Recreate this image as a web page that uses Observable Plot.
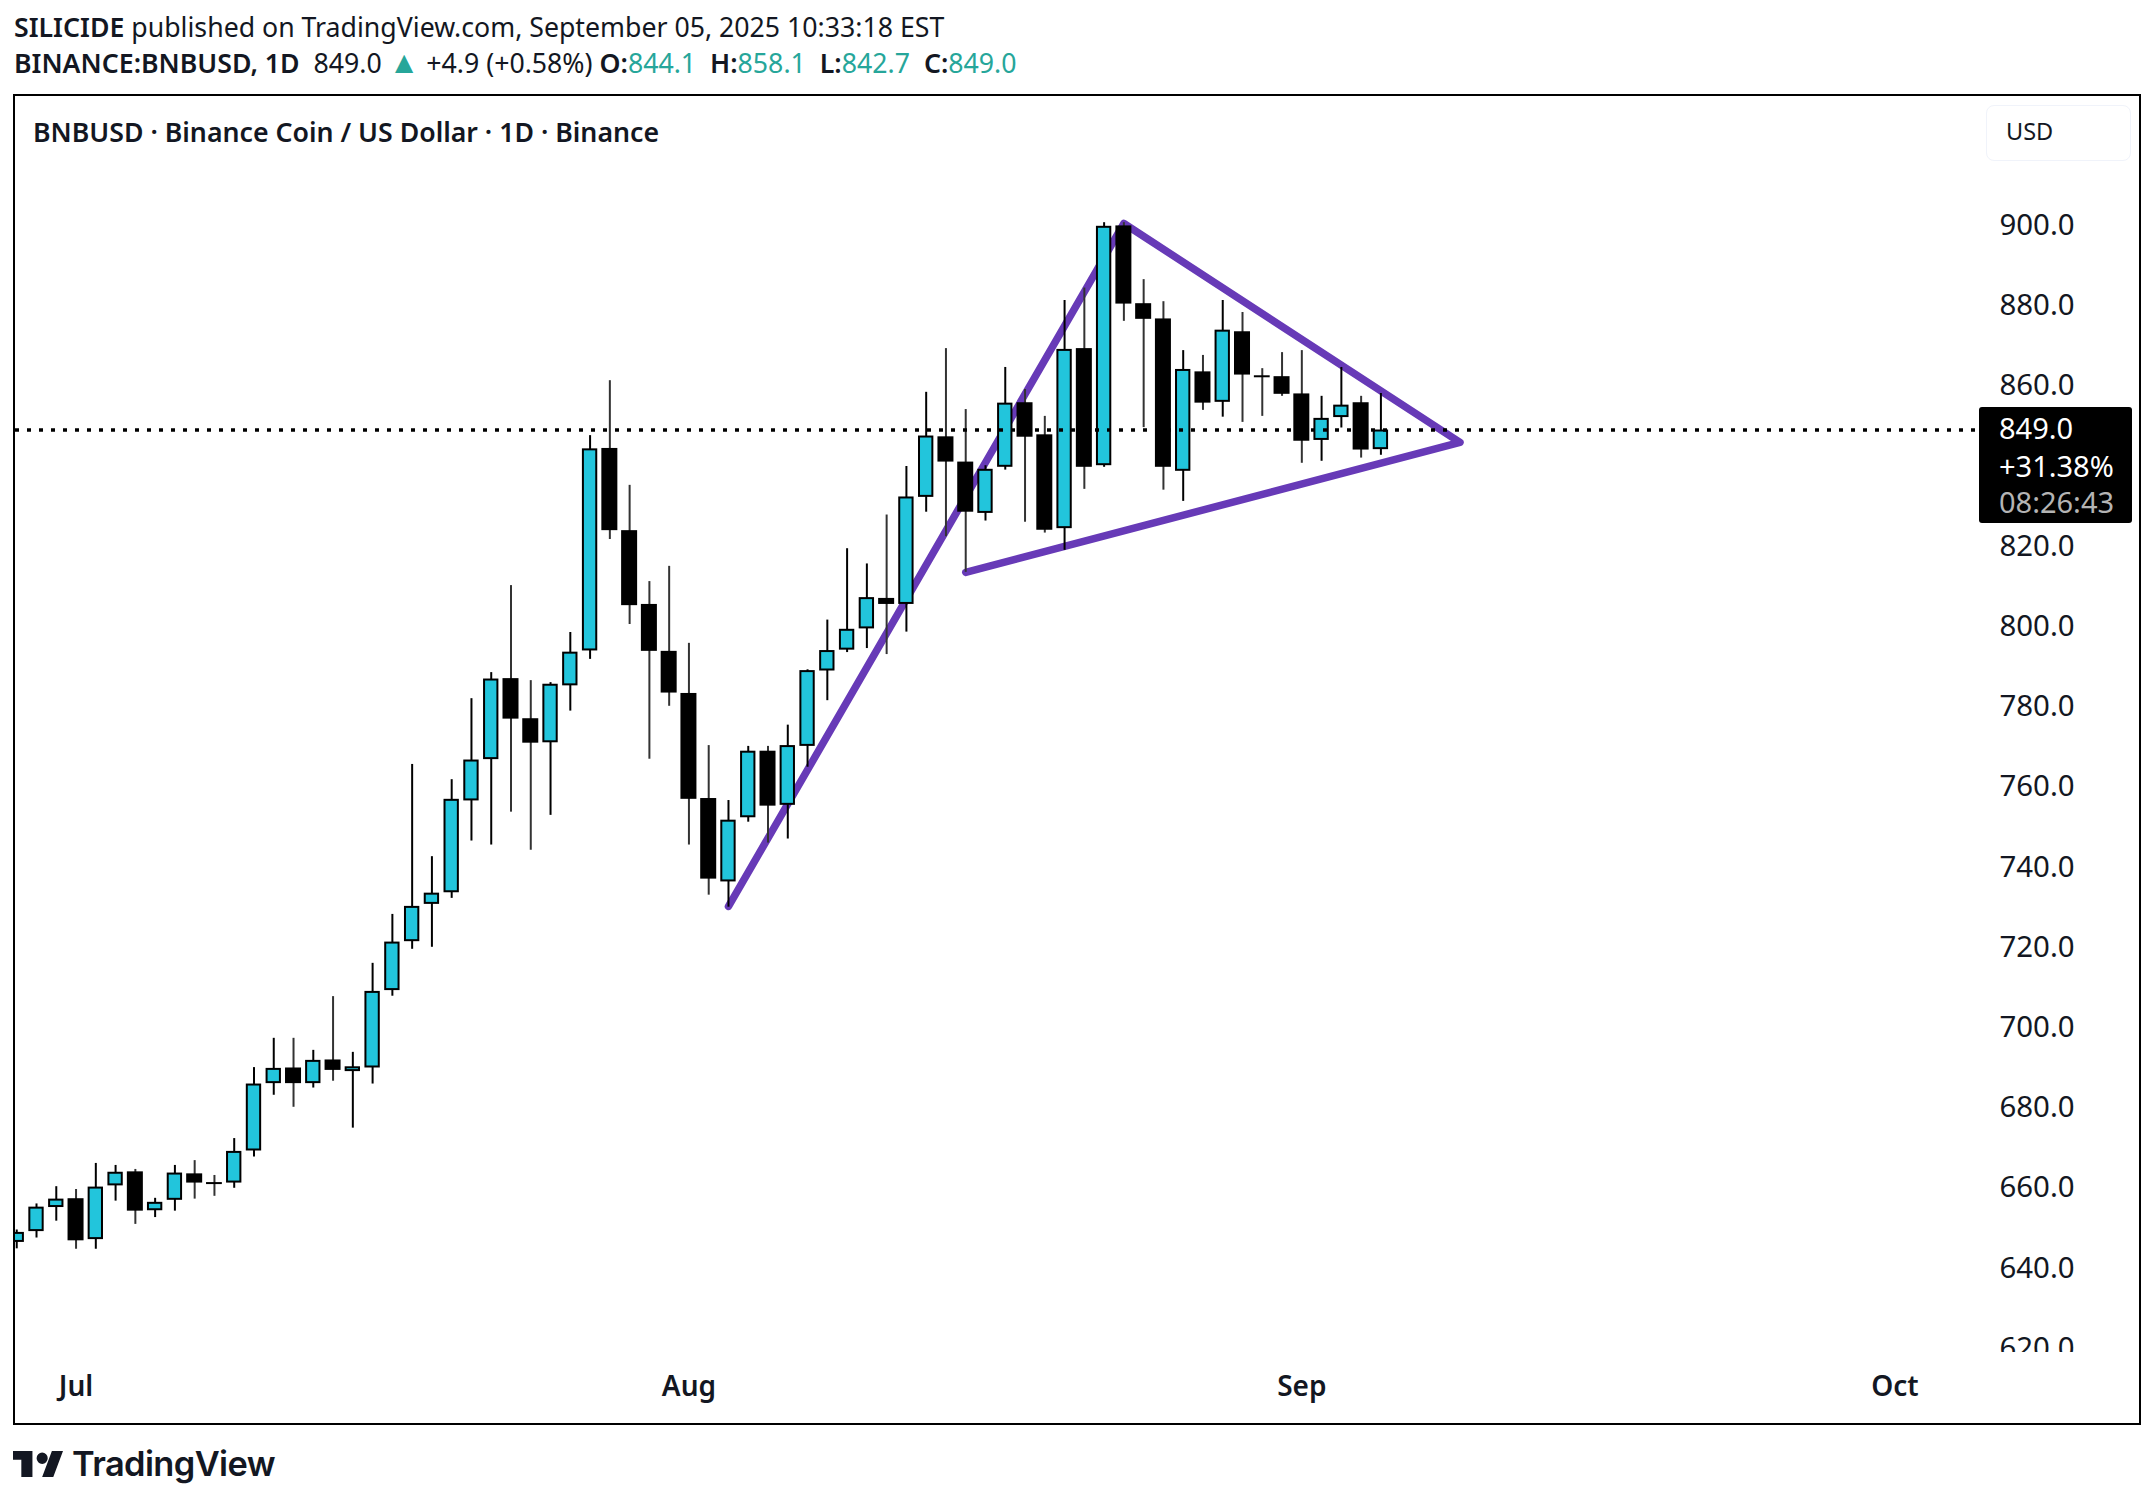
<!DOCTYPE html>
<html>
<head>
<meta charset="utf-8">
<script src="https://cdn.jsdelivr.net/npm/d3@7"></script>
<script src="https://cdn.jsdelivr.net/npm/@observablehq/plot@0.6"></script>
<style>
  html, body { margin: 0; padding: 0; background: #fff; }
  body { width: 2154px; height: 1504px; position: relative; overflow: hidden; font-family: "Noto Sans", sans-serif; color: #131722; }
  .line { position: absolute; left: 14px; white-space: nowrap; font-size: 26.7px; line-height: 36px; }
  .line b { font-weight: 600; }
  .gap { margin-left: 7px; }
  .teal { color: #26a69a; }
  .tri { color: #26a69a; font-size: 31px; line-height: 0; }
  #pane { position: absolute; left: 13px; top: 94px; width: 2128px; height: 1331px; border: 2px solid #000; box-sizing: border-box; overflow: hidden; }
  #pane svg { display: block; }
  #title { position: absolute; left: 33px; top: 114px; font-size: 26.7px; line-height: 36px; font-weight: 600; white-space: nowrap; }
  #usd { position: absolute; left: 1986px; top: 105px; width: 145px; height: 56px; box-sizing: border-box; border: 1.5px solid #f0f3fa; border-radius: 8px; font-size: 23.5px; line-height: 51px; padding-left: 19px; background: #fff; }
  #tag { position: absolute; left: 1979px; top: 407px; width: 153px; height: 116px; background: #000; border-radius: 3px; color: #fff; font-size: 29px; }
  #tag div { position: absolute; left: 20px; white-space: nowrap; line-height: 36px; }
  #logo { position: absolute; left: 13px; top: 1451px; width: 50px; height: 26px; }
  #brand { position: absolute; left: 72px; top: 1441px; font-family: Inter, sans-serif; font-size: 34.4px; font-weight: 600; line-height: 46px; letter-spacing: -0.6px; }
</style>
</head>
<body>
<div class="line" style="top:8.5px"><b>SILICIDE</b> published on TradingView.com, September 05, 2025 10:33:18 EST</div>
<div class="line" style="top:45px"><b>BINANCE:BNBUSD, 1D</b>&nbsp; 849.0 <span class="tri">▲</span> +4.9 (+0.58%) <b>O:</b><span class="teal">844.1</span> <b class="gap">H:</b><span class="teal">858.1</span> <b class="gap">L:</b><span class="teal">842.7</span> <b class="gap">C:</b><span class="teal">849.0</span></div>
<div id="pane"></div>
<div id="title">BNBUSD · Binance Coin / US Dollar · 1D · Binance</div>
<div id="usd">USD</div>
<div id="tag">
  <div style="top:3px">849.0</div>
  <div style="top:41px">+31.38%</div>
  <div style="top:77px;color:#b4b4b4">08:26:43</div>
</div>
<svg id="logo" viewBox="0 0 36 18" preserveAspectRatio="none"><path fill="#131722" d="M14 0H0v6h6v12h8V0zm15 18h-8L28 0h8l-7 18zM21 9a4 4 0 1 0 0-8 4 4 0 0 0 0 8z"/></svg>
<div id="brand">TradingView</div>

<script>
// Daily candles, BNB/USD, first candle on 28 Jun 2025
const firstDay = new Date(Date.UTC(2025, 5, 28));
const opens = [646.4,649.1,655.1,657.3,647.1,660.5,664,654.3,656.9,663.5,661.4,661.2,669.2,686,689.9,686,691.9,689,689.9,709.2,721.4,730.7,733.6,756.5,766.8,787,777,771,785.2,793.9,844.4,823.9,805.5,793.8,783.3,757.1,736.3,752.3,768.9,755.4,770.1,788.9,794.1,799.4,807,805.5,832.2,847.3,841,828.2,839.7,855.8,847.8,824.4,869.3,840.1,899.9,880.5,876.7,838.7,863.5,855.9,873.5,862.7,862.3,858,846.4,852.1,855.8,844.1];
const highs = [649.5,656,660.3,659.6,666.1,665.6,664.6,657.4,665.6,666.8,663.1,672.3,690,697.3,697.3,694.3,707.7,693.8,716,728.2,765.6,742.6,761.8,782,788.5,810.2,786.5,786,798.5,847.6,861.3,835.2,811.2,815,795.8,770.3,756.6,770.1,770.1,775.4,789.2,801.6,819.4,815.6,827.8,839.9,858.4,869.3,854.1,840.1,864.6,859.1,852.4,881.3,884.4,900.7,900.7,886.5,881,868.8,867.6,881.3,878.3,864.3,868.3,868.8,857.4,864.6,857.4,858.1];
const lows = [644.8,647.5,651.7,644.7,644.7,656.7,650.9,652.6,654.2,657.2,657.9,659.9,667.7,683.1,680.1,684.9,686.6,674.9,685.9,707.8,719.5,720,732.2,746.5,745.5,753.7,744.2,752.9,778.9,791.8,821.7,800.5,766.9,780.1,745.5,733,730,751.2,746,747,764.9,781.5,793.5,794.5,793,798.6,828.5,822.4,813.5,826.3,839,826,823.3,819,834.2,839.7,876.1,849.6,834,831.2,853.9,852.2,850.9,852.4,857.4,840.7,841.2,849.5,842,842.7];
const closes = [648.9,655.2,657.2,646.8,660.2,663.9,654.2,656.4,663.7,661.2,661.2,669.1,685.9,689.8,686,691.8,689.3,690.2,709,721.3,730.2,733.5,756.9,766.7,786.9,776.9,770.9,785.6,793.6,844.3,823.9,805.2,793.8,783.4,756.9,737,751.7,768.9,755.2,770.3,789,794,799.3,807.2,805.5,832.3,847.5,841,828.5,839.2,855.7,847.2,824,869.1,839.7,899.8,880.4,876.6,839.7,864.1,855.7,873.9,862.7,862.4,857.9,846.2,851.9,855.2,844,849];

// Hand-drawn triangle on the chart, read as date / price anchors
const trendDates = ["2025-08-03", "2025-08-23", "2025-09-09", "2025-08-15"];
const trendPrices = [730.2, 900.5, 845.9, 813.5];

const lastClose = 849;
// 840.0 sits behind the price tag in the reference, so it is not listed
const priceTicks = [620,640,660,680,700,720,740,760,780,800,820,860,880,900];
const monthTicks = ["2025-07-01", "2025-08-01", "2025-09-01", "2025-10-01"];

const upColor = "#22c5dc";
const downColor = "#000000";

const candles = opens.map((open, i) => ({
  date: d3.utcDay.offset(firstDay, i),
  open, high: highs[i], low: lows[i], close: closes[i],
  top: Math.max(open, closes[i]), bottom: Math.min(open, closes[i])
}));
const isDoji = d => d.top - d.bottom < 0.6;
const ups = candles.filter(d => d.close >= d.open);
const downs = candles.filter(d => d.close < d.open && !isDoji(d));
const dojis = candles.filter(d => d.close < d.open && isDoji(d));
const wicksDown = candles.filter(d => d.close < d.open);
const trend = trendDates.map((d, i) => ({ date: new Date(d), price: trendPrices[i] }));

const hours = (d, h) => new Date(+d + h * 3600e3);
const bodyUp = { x1: d => hours(d.date, -8.1), x2: d => hours(d.date, 8.1) };
const bodyDown = { x1: d => hours(d.date, -8.5), x2: d => hours(d.date, 8.5) };
const bodyDoji = { x1: d => hours(d.date, -9.6), x2: d => hours(d.date, 9.6) };

const chart = Plot.plot({
  width: 2124,
  height: 1327,
  marginTop: 0, marginLeft: 0, marginRight: 0, marginBottom: 71,
  style: { background: "transparent", fontFamily: "'Noto Sans', sans-serif", fontSize: "29.4px", color: "#131722" },
  x: { type: "utc", domain: [new Date("2025-06-27T22:30:00Z"), new Date("2025-10-13T08:53:00Z")], label: null },
  y: { domain: [618.95, 932.17], label: null },
  marks: [
    Plot.line(trend, { x: "date", y: "price", stroke: "#673ab7", strokeWidth: 7.5, strokeLinecap: "round", strokeLinejoin: "round", clip: "frame" }),
    Plot.ruleX(wicksDown, { x: "date", y1: "low", y2: "high", stroke: "#333333", strokeWidth: 2, clip: "frame" }),
    Plot.ruleX(ups, { x: "date", y1: "low", y2: "high", stroke: "#000000", strokeWidth: 2, clip: "frame" }),
    Plot.rect(downs, { ...bodyDown, y1: "bottom", y2: "top", fill: downColor, stroke: downColor, strokeWidth: 2, insetTop: 1, insetBottom: 1, clip: "frame" }),
    Plot.rect(ups, { ...bodyUp, y1: "bottom", y2: "top", fill: upColor, stroke: "#000000", strokeWidth: 2, insetTop: 1, insetBottom: 1, clip: "frame" }),
    Plot.ruleY(dojis, { ...bodyDoji, y: "close", stroke: downColor, strokeWidth: 2, clip: "frame" }),
    Plot.ruleY([lastClose], { stroke: "#000000", strokeWidth: 3.6, strokeDasharray: "4 8" }),
    Plot.axisY(priceTicks, { anchor: "right", tickSize: 0, tickPadding: -140, tickFormat: d => d.toFixed(1), clip: "frame", label: null, fill: "#131722" }),
    Plot.axisX(monthTicks.map(d => new Date(d)), { anchor: "bottom", tickSize: 0, tickPadding: 24, tickFormat: d3.utcFormat("%b"), label: null, fontWeight: 600, fill: "#131722", fontSize: 28 })
  ]
});
document.getElementById("pane").appendChild(chart);
</script>
</body>
</html>
